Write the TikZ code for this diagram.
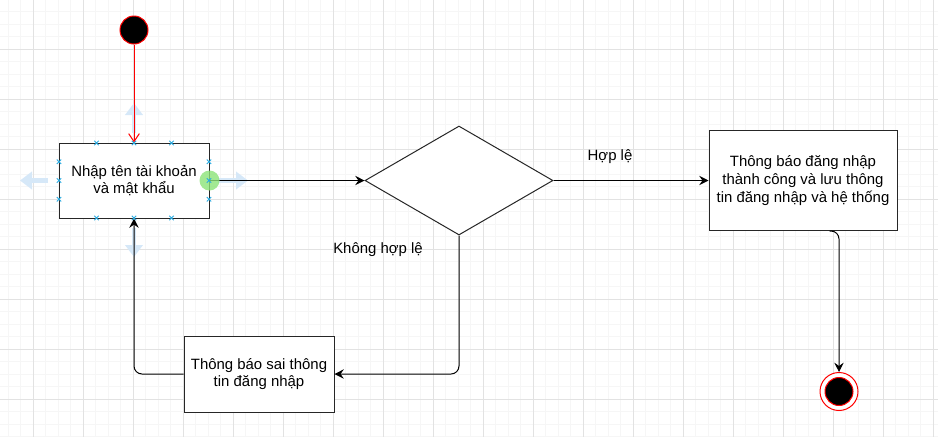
\documentclass[tikz,border=0pt]{standalone}
\usepackage{fontspec}
\setmainfont{Liberation Sans}
\usepackage{tikz}
\usetikzlibrary{arrows.meta}
\usetikzlibrary{shapes.geometric}
\usetikzlibrary{positioning}
\tikzset{>={Stealth[length=7pt,width=7pt,inset=2.5pt]}}
\definecolor{gridmin}{RGB}{246,246,246}
\definecolor{gridmaj}{RGB}{226,226,226}
\definecolor{hintblue}{RGB}{214,232,248}
\definecolor{markblue}{RGB}{41,170,225}
\definecolor{dotgreen}{RGB}{140,228,120}
\tikzset{
  stepbox/.style={draw=black!85, fill=white, align=center, inner sep=2pt},
  decision/.style={diamond, draw=black!85, fill=white, inner sep=0pt,
    minimum width=141pt, minimum height=81.75pt},
  hintarrow/.style={hintblue, line width=3.5pt, -{Triangle[length=9pt,width=13pt]}},
  edgetext/.style={inner sep=1pt}
}

\begin{document}
\begin{tikzpicture}[x=0.75pt,y=-0.75pt,font=\fontsize{11.2}{13.2}\selectfont,line width=0.75pt]
\useasboundingbox (0,0) rectangle (938,437);
% grid
\foreach \i in {0,...,74} \draw[gridmin] (8.33+12.5*\i,0) -- (8.33+12.5*\i,437);
\foreach \j in {0,...,34} \draw[gridmin] (0,11.8+12.5*\j) -- (938,11.8+12.5*\j);
\foreach \i in {0,...,18} \draw[gridmaj] (33.33+50*\i,0) -- (33.33+50*\i,437);
\foreach \j in {0,...,7} \draw[gridmaj] (0,49.3+50*\j) -- (938,49.3+50*\j);

% hints
\draw[hintarrow] (134,133) -- (134,103);
\draw[hintarrow] (134,228) -- (134,257);
\draw[hintarrow] (48,180.5) -- (20,180.5);
\draw[hintarrow] (218,180.5) -- (248,180.5);

\node[circle, draw=red, fill=black, minimum size=21pt, inner sep=0pt] (start) at (134,30) {};
\node[stepbox, minimum width=112.5pt, minimum height=56.25pt] (login) at (134,180.5) {Nhập tên tài khoản\\và mật khẩu};
\node[decision] (check) at (459,180.5) {};
\node[stepbox, minimum width=141pt, minimum height=75pt] (ok) at (803,180.5) {Thông báo đăng nhập\\thành công và lưu thông\\tin đăng nhập và hệ thống};
\node[stepbox, minimum width=112.5pt, minimum height=57pt] (err) at (259,374) {Thông báo sai thông\\tin đăng nhập};
\node[circle, draw=red, fill=white, minimum size=28.5pt, inner sep=0pt] (finish) at (839,391.5) {};
\node[circle, draw=red, fill=black, minimum size=21pt, inner sep=0pt] (finishdot) at (finish) {};

\node[edgetext] (yes) at (610,157) {Hợp lệ};
\node[edgetext] (no) at (378,250) {Không hợp lệ};

\draw[red, -{Straight Barb[length=6pt,width=8pt]}] (start) -- (login);
\draw[->] (login) -- (check);
\draw[->] (check.east) -- (ok.west);
\draw[->, rounded corners=6pt] (check.south) |- (err.east);
\draw[->, rounded corners=6pt] (err.west) -| (login.south);
\draw[->, rounded corners=6pt] ([xshift=20pt]ok.south) -| (finish.north);

% selection marks
\fill[dotgreen, opacity=0.8] (login.east) circle [radius=7.5pt];
\foreach \mx/\my in {96.5/143,134/143,171.5/143,96.5/218,134/218,171.5/218,
  59/161.75,59/180.5,59/199.25,209/161.75,209/180.5,209/199.25}
  \draw[markblue, line width=0.7pt] (\mx-2.2,\my-2.2) -- (\mx+2.2,\my+2.2) (\mx-2.2,\my+2.2) -- (\mx+2.2,\my-2.2);
\end{tikzpicture}
\end{document}
